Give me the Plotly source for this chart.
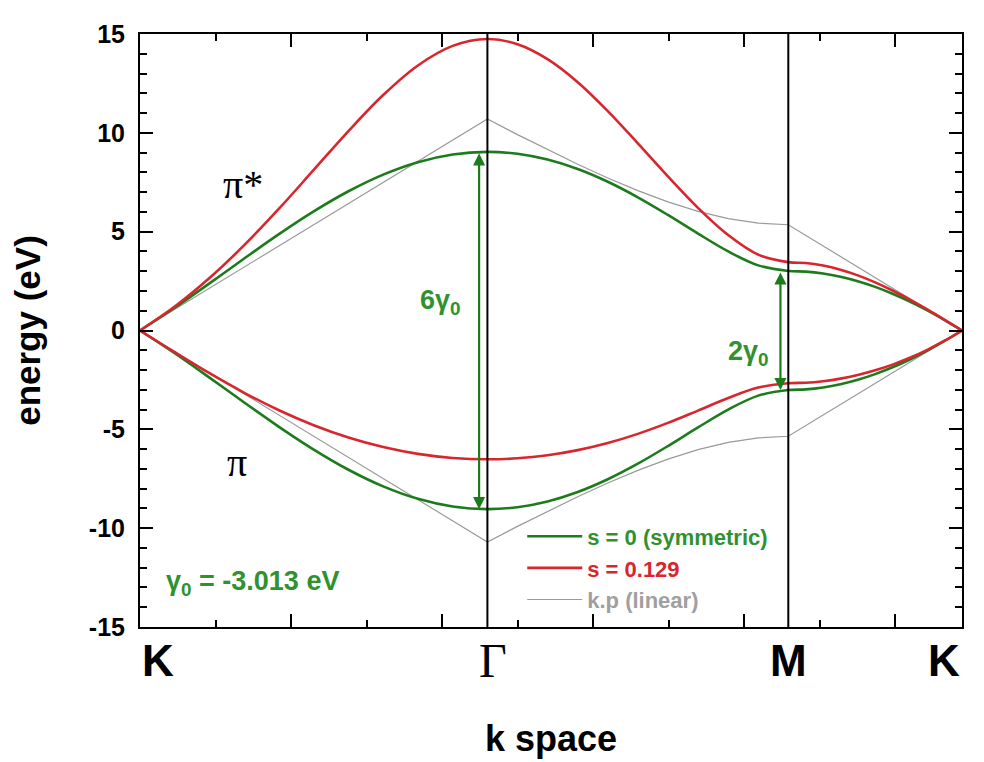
import plotly.graph_objects as go

# ---- data ----
# k-path coordinate: K (0) -> Gamma (2.30) -> M (4.292) -> K (5.442)
k_sym = [0.0, 2.30, 4.292, 5.442]
k_sym_labels = ["K", "Γ", "M", "K"]

k_band = [0.0, 0.23, 0.46, 0.69, 0.92, 1.15, 1.38, 1.61, 1.84, 2.07, 2.30,
          2.499, 2.698, 2.898, 3.097, 3.296, 3.495, 3.694, 3.894, 4.093, 4.292,
          4.407, 4.522, 4.637, 4.752, 4.867, 4.982, 5.097, 5.212, 5.327, 5.442]

# s = 0 (symmetric) pi* band; pi band is its mirror
e_s0_up = [0, 1.151, 2.383, 3.643, 4.875, 6.026, 7.045, 7.888, 8.518, 8.907, 9.039,
           8.940, 8.647, 8.169, 7.524, 6.737, 5.845, 4.904, 4.002, 3.295, 3.013,
           2.980, 2.881, 2.718, 2.492, 2.206, 1.862, 1.465, 1.019, 0.529, 0]
e_s0_dn = [-v for v in e_s0_up]

# s = 0.129
e_s1_up = [0, 1.211, 2.654, 4.316, 6.161, 8.121, 10.088, 11.911, 13.408, 14.398, 14.746,
           14.484, 13.730, 12.563, 11.100, 9.469, 7.797, 6.207, 4.829, 3.836, 3.459,
           3.416, 3.287, 3.076, 2.790, 2.436, 2.024, 1.563, 1.066, 0.541, 0]
e_s1_dn = [0, -1.097, -2.162, -3.151, -4.033, -4.790, -5.413, -5.897, -6.242, -6.448, -6.517,
           -6.465, -6.311, -6.052, -5.691, -5.229, -4.675, -4.053, -3.416, -2.887, -2.669,
           -2.643, -2.565, -2.435, -2.252, -2.015, -1.725, -1.379, -0.977, -0.517, 0]

# k.p (linear)
k_kp = [0.0, 2.30, 2.499, 2.698, 2.898, 3.097, 3.296, 3.495, 3.694, 3.894, 4.093, 4.292, 5.442]
e_kp_up = [0, 10.70, 9.908, 9.142, 8.408, 7.716, 7.077, 6.509, 6.029, 5.662, 5.430, 5.35, 0]
e_kp_dn = [-v for v in e_kp_up]

gap_gamma = [9.039, -9.039]   # 6 gamma0
gap_m = [3.013, -3.013]       # 2 gamma0

y_tickvals = [-15, -10, -5, 0, 5, 10, 15]
y_ticktext = ["-15", "-10", "-5", "0", "5", "10", "15"]

GREEN = "#1c7c1c"
GREEN_TXT = "#2f922f"
RED = "#d8262e"
GREY = "#9a9a9a"
SANS = "Liberation Sans, Arial, sans-serif"
SERIF = "Liberation Serif, Times New Roman, serif"

fig = go.Figure()

fig.add_trace(go.Scatter(x=k_kp, y=e_kp_up, mode="lines", line=dict(color=GREY, width=1.2),
                         name="<span style='color:#a0a0a0'>k.p (linear)</span>",
                         legendgroup="kp", legendrank=3))
fig.add_trace(go.Scatter(x=k_kp, y=e_kp_dn, mode="lines", line=dict(color=GREY, width=1.2),
                         legendgroup="kp", showlegend=False))

fig.add_trace(go.Scatter(x=k_band, y=e_s0_up, mode="lines",
                         line=dict(color=GREEN, width=2.6, shape="spline"),
                         name="<span style='color:%s'>s = 0 (symmetric)</span>" % GREEN_TXT,
                         legendgroup="s0", legendrank=1))
fig.add_trace(go.Scatter(x=k_band, y=e_s0_dn, mode="lines",
                         line=dict(color=GREEN, width=2.6, shape="spline"),
                         legendgroup="s0", showlegend=False))

fig.add_trace(go.Scatter(x=k_band, y=e_s1_up, mode="lines",
                         line=dict(color=RED, width=2.6, shape="spline"),
                         name="<span style='color:%s'>s = 0.129</span>" % RED,
                         legendgroup="s1", legendrank=2))
fig.add_trace(go.Scatter(x=k_band, y=e_s1_dn, mode="lines",
                         line=dict(color=RED, width=2.6, shape="spline"),
                         legendgroup="s1", showlegend=False))

# vertical lines at Gamma and M
for xv in k_sym[1:3]:
    fig.add_shape(type="line", xref="x", yref="paper", x0=xv, x1=xv, y0=0, y1=1,
                  line=dict(color="black", width=2))

annotations = []
# double-headed gap arrows
for xa, (ytop, ybot) in [(2.245, gap_gamma), (4.24, gap_m)]:
    annotations.append(dict(x=xa, y=ybot, ax=xa, ay=ytop, xref="x", yref="y", axref="x", ayref="y",
                            text="", showarrow=True, arrowhead=2, arrowsize=1.1, arrowwidth=2.2,
                            arrowside="end+start", arrowcolor=GREEN, standoff=0, startstandoff=0))

annotations += [
    dict(x=2.14, y=1.45, xref="x", yref="y", text="6γ<sub>0</sub>", showarrow=False,
         xanchor="right", yanchor="middle",
         font=dict(family=SANS, size=27, color=GREEN_TXT, weight="bold")),
    dict(x=4.18, y=-1.15, xref="x", yref="y", text="2γ<sub>0</sub>", showarrow=False,
         xanchor="right", yanchor="middle",
         font=dict(family=SANS, size=27, color=GREEN_TXT, weight="bold")),
    dict(x=0.16, y=-12.75, xref="x", yref="y", text="γ<sub>0</sub> = -3.013 eV", showarrow=False,
         xanchor="left", yanchor="middle",
         font=dict(family=SANS, size=27, color=GREEN_TXT, weight="bold")),
    dict(x=0.68, y=7.4, xref="x", yref="y", text="π*", showarrow=False,
         xanchor="center", yanchor="middle", font=dict(family=SERIF, size=40, color="black")),
    dict(x=0.64, y=-6.7, xref="x", yref="y", text="π", showarrow=False,
         xanchor="center", yanchor="middle", font=dict(family=SERIF, size=40, color="black")),
]

# high-symmetry point labels
anchors = ["left", "center", "center", "right"]
for xv, lab, anc in zip(k_sym, k_sym_labels, anchors):
    is_gamma = lab == "Γ"
    annotations.append(dict(
        x=xv + (0.04 if is_gamma else 0), y=-0.056, xref="x", yref="paper", text=lab,
        showarrow=False, xanchor=anc, yanchor="middle",
        font=dict(family=SERIF if is_gamma else SANS, size=48 if is_gamma else 44,
                  color="black", weight="normal" if is_gamma else "bold")))

# the page body adds an 8px offset, so the figure is 8px smaller than the window
fig.update_layout(
    width=976, height=754,
    margin=dict(l=132, r=22, t=19, b=132),
    paper_bgcolor="white", plot_bgcolor="white",
    annotations=annotations,
    showlegend=True,
    legend=dict(x=0.465, y=0.188, xanchor="left", yanchor="top", itemwidth=55,
                bgcolor="rgba(0,0,0,0)", tracegroupgap=0,
                font=dict(family=SANS, size=22, weight="bold")),
    xaxis=dict(range=[0, 5.442], tick0=0, dtick=1, ticks="inside", ticklen=13, tickwidth=2,
               tickcolor="black", showticklabels=False, showline=True, linewidth=2,
               linecolor="black", mirror="ticks", showgrid=False, zeroline=False,
               minor=dict(dtick=0.5, ticks="inside", ticklen=7, tickwidth=2, tickcolor="black",
                          showgrid=False),
               title=dict(text="k space", standoff=98,
                          font=dict(family=SANS, size=36, color="black", weight="bold"))),
    yaxis=dict(range=[-15, 15], tickvals=y_tickvals, ticktext=y_ticktext,
               ticks="inside", ticklen=13, tickwidth=2,
               tickcolor="black", showline=True, linewidth=2, linecolor="black",
               mirror="ticks", showgrid=False, zeroline=False, ticklabelstandoff=8,
               tickfont=dict(family=SANS, size=25, color="black", weight="bold"),
               minor=dict(dtick=1, ticks="inside", ticklen=7, tickwidth=2, tickcolor="black",
                          showgrid=False),
               title=dict(text="energy (eV)", standoff=38,
                          font=dict(family=SANS, size=35, color="black", weight="bold"))),
)

fig.write_html("out.html")
